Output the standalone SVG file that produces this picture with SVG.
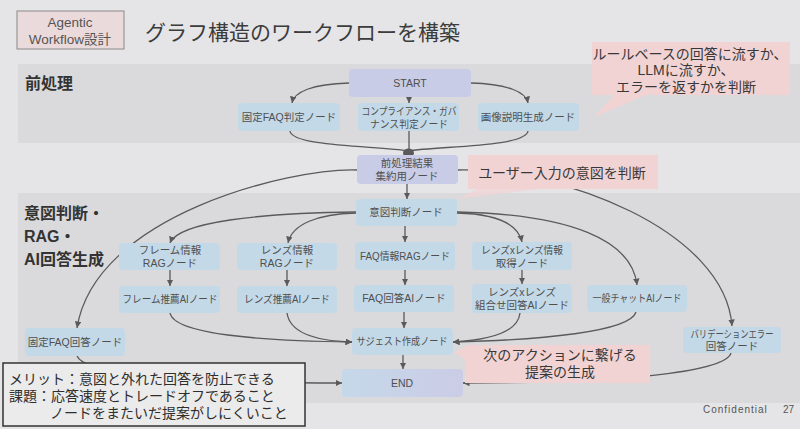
<svg xmlns="http://www.w3.org/2000/svg" width="800" height="429" viewBox="0 0 800 429">
<defs>
<style>
text{font-family:"Liberation Sans","Noto Sans CJK JP",sans-serif;}
.nt{font-size:10.5px;fill:#4f4f4f;text-anchor:middle;}
.nb{fill:#c4d9e8;}
.nl{fill:#c8cce6;}
.cn{fill:none;stroke:#5a5a5a;stroke-width:1.3;}
.ar{marker-end:url(#ah);}
.co{fill:#f1d3d4;}
.ct{font-size:14px;fill:#383838;text-anchor:middle;}
.bl{font-size:16px;font-weight:bold;fill:#333;}
.tb{font-size:14px;fill:#2e2e2e;}
</style>
<marker id="ah" viewBox="0 0 10 10" refX="10" refY="5" markerWidth="6.5" markerHeight="6.5" markerUnits="userSpaceOnUse" orient="auto"><path d="M0,0 L10,5 L0,10 z" fill="#5a5a5a"/></marker>
<linearGradient id="endg" x1="0" y1="0" x2="1" y2="0"><stop offset="0" stop-color="#c5d8e9"/><stop offset="1" stop-color="#cbcce6"/></linearGradient>
</defs>

<rect x="0" y="0" width="800" height="429" fill="#e5e5e7"/>
<rect x="18" y="64" width="782" height="79" fill="#dadadc"/>
<rect x="18" y="193" width="782" height="210" fill="#dadadc"/>

<g id="header">
<rect x="17" y="11" width="107" height="38" fill="#ebdadb" stroke="#8a8a8a" stroke-width="1"/>
<text x="70" y="27" font-size="13.5" fill="#555" text-anchor="middle">Agentic</text>
<text x="70" y="44" font-size="13.5" fill="#555" text-anchor="middle">Workflow設計</text>
</g>
<text x="145" y="40" font-size="21" fill="#3c3c3c">グラフ構造のワークフローを構築</text>

<text class="bl" x="25" y="89">前処理</text>
<text class="bl" x="24" y="219">意図判断・</text>
<text class="bl" x="24" y="242">RAG・</text>
<text class="bl" x="24" y="265">AI回答生成</text>

<g id="connectors">
<path class="cn ar" d="M349,83 C312,84 294,92 292,103"/>
<path class="cn ar" d="M409,96 L409,103"/>
<path class="cn ar" d="M471,83 C508,84 526,92 528,103"/>
<path class="cn" d="M290,131 C292,147 380,146 408,151"/>
<path class="cn" d="M409,131 L409,151"/>
<path class="cn" d="M528,131 C526,147 440,146 408,151"/>
<ellipse cx="408.5" cy="153" rx="5.5" ry="4.5" fill="#5a5a5a"/>
<path class="cn ar" d="M407,183 L407,199"/>
<path class="cn ar" d="M357,170 C290,168 95,215 77,328"/>
<path class="cn ar" d="M458,170 C560,168 725,230 732,326"/>
<path class="cn ar" d="M356,212 C260,213 178,222 170,243"/>
<path class="cn ar" d="M356,213 C318,214 292,224 288,243"/>
<path class="cn ar" d="M405,226 L405,242"/>
<path class="cn ar" d="M457,213 C496,214 518,224 522,242"/>
<path class="cn ar" d="M457,212 C570,214 632,240 637,285"/>
<path class="cn ar" d="M170,270 L170,286"/>
<path class="cn ar" d="M287,270 L287,286"/>
<path class="cn ar" d="M405,270 L405,285"/>
<path class="cn ar" d="M522,270 L522,284"/>
<path class="cn ar" d="M170,313 C174,334 260,341 352,342"/>
<path class="cn ar" d="M287,313 C290,334 318,341 352,342"/>
<path class="cn ar" d="M520,313 C518,332 490,340 453,342"/>
<path class="cn ar" d="M636,312 C630,332 540,340 453,342"/>
<path class="cn ar" d="M404,312 L404,328"/>
<path class="cn ar" d="M403,355 L403,369"/>
<path class="cn ar" d="M77,356 C84,372 160,383 342,383"/>
<path class="cn ar" d="M731,353 C726,370 640,383 463,383"/>
</g>

<g id="n-start"><rect class="nl" x="349" y="69" width="122" height="28" rx="4"/><text class="nt" x="410" y="87" font-size="12">START</text></g>
<g id="n-faqjudge"><rect class="nb" x="238" y="103" width="102" height="28" rx="4"/><text class="nt" x="289" y="121">固定FAQ判定ノード</text></g>
<g id="n-compliance"><rect class="nb" x="358" y="103" width="101" height="28" rx="4"/><text class="nt" x="409" y="115" textLength="95" lengthAdjust="spacingAndGlyphs">コンプライアンス・ガバ</text><text class="nt" x="409" y="128" textLength="78" lengthAdjust="spacingAndGlyphs">ナンス判定ノード</text></g>
<g id="n-image"><rect class="nb" x="478" y="103" width="101" height="28" rx="4"/><text class="nt" x="528" y="121">画像説明生成ノード</text></g>
<g id="n-aggregate"><rect class="nl" x="357" y="155" width="101" height="29" rx="4"/><text class="nt" x="407" y="167">前処理結果</text><text class="nt" x="407" y="180">集約用ノード</text></g>
<g id="n-intent"><rect class="nb" x="356" y="199" width="101" height="27" rx="4"/><text class="nt" x="406" y="216">意図判断ノード</text></g>
<g id="n-framerag"><rect class="nb" x="119" y="243" width="101" height="27" rx="4"/><text class="nt" x="170" y="254">フレーム情報</text><text class="nt" x="170" y="267">RAGノード</text></g>
<g id="n-lensrag"><rect class="nb" x="237" y="243" width="100" height="27" rx="4"/><text class="nt" x="287" y="254">レンズ情報</text><text class="nt" x="287" y="267">RAGノード</text></g>
<g id="n-faqrag"><rect class="nb" x="355" y="242" width="100" height="28" rx="4"/><text class="nt" x="405" y="260" textLength="90" lengthAdjust="spacingAndGlyphs">FAQ情報RAGノード</text></g>
<g id="n-lenslens"><rect class="nb" x="472" y="242" width="100" height="28" rx="4"/><text class="nt" x="522" y="254" textLength="82" lengthAdjust="spacingAndGlyphs">レンズxレンズ情報</text><text class="nt" x="522" y="267">取得ノード</text></g>
<g id="n-frameai"><rect class="nb" x="119" y="286" width="101" height="27" rx="4"/><text class="nt" x="170" y="303" textLength="95" lengthAdjust="spacingAndGlyphs">フレーム推薦AIノード</text></g>
<g id="n-lensai"><rect class="nb" x="237" y="286" width="100" height="27" rx="4"/><text class="nt" x="287" y="303" textLength="86" lengthAdjust="spacingAndGlyphs">レンズ推薦AIノード</text></g>
<g id="n-faqai"><rect class="nb" x="354" y="285" width="100" height="27" rx="4"/><text class="nt" x="404" y="302">FAQ回答AIノード</text></g>
<g id="n-lenslensai"><rect class="nb" x="472" y="284" width="100" height="29" rx="4"/><text class="nt" x="522" y="296">レンズxレンズ</text><text class="nt" x="522" y="309">組合せ回答AIノード</text></g>
<g id="n-chat"><rect class="nb" x="587" y="285" width="100" height="27" rx="4"/><text class="nt" x="637" y="302" textLength="89" lengthAdjust="spacingAndGlyphs">一般チャットAIノード</text></g>
<g id="n-faqanswer"><rect class="nb" x="25" y="328" width="100" height="28" rx="4"/><text class="nt" x="75" y="346">固定FAQ回答ノード</text></g>
<g id="n-suggest"><rect class="nb" x="352" y="328" width="101" height="27" rx="4"/><text class="nt" x="402" y="345" textLength="91" lengthAdjust="spacingAndGlyphs">サジェスト作成ノード</text></g>
<g id="n-validation"><rect class="nb" x="683" y="327" width="98" height="26" rx="4"/><text class="nt" x="732" y="338" textLength="83" lengthAdjust="spacingAndGlyphs">バリデーションエラー</text><text class="nt" x="732" y="350">回答ノード</text></g>
<g id="n-end"><rect x="342" y="369" width="121" height="28" rx="4" fill="url(#endg)"/><text class="nt" x="402" y="387" font-size="12">END</text></g>

<g id="callout-route">
<polygon class="co" points="615,94 648,94 594,117"/>
<rect class="co" x="592" y="42" width="198" height="53"/>
<text class="ct" x="690" y="59">ルールベースの回答に流すか、</text>
<text class="ct" x="686" y="75">LLMに流すか、</text>
<text class="ct" x="686" y="92">エラーを返すかを判断</text>
</g>
<g id="callout-intent">
<polygon class="co" points="480,188 548,188 457,199" opacity="0.75"/>
<rect class="co" x="468" y="155" width="190" height="34"/>
<text class="ct" x="562" y="178">ユーザー入力の意図を判断</text>
</g>
<g id="callout-suggest">
<polygon class="co" points="466,347 466,360 454,352"/>
<rect class="co" x="465" y="345" width="185" height="38"/>
<text class="ct" x="560" y="360">次のアクションに繋げる</text>
<text class="ct" x="560" y="377">提案の生成</text>
</g>

<g id="note">
<rect x="3" y="363" width="302" height="63" fill="#ebebeb" stroke="#333" stroke-width="1.5"/>
<text class="tb" x="9" y="384">メリット：意図と外れた回答を防止できる</text>
<text class="tb" x="9" y="401">課題：応答速度とトレードオフであること</text>
<text class="tb" x="50" y="418">ノードをまたいだ提案がしにくいこと</text>
</g>

<text x="703" y="413" font-size="10" fill="#555" letter-spacing="1">Confidential</text>
<text x="783" y="413" font-size="10" fill="#555">27</text>
</svg>
